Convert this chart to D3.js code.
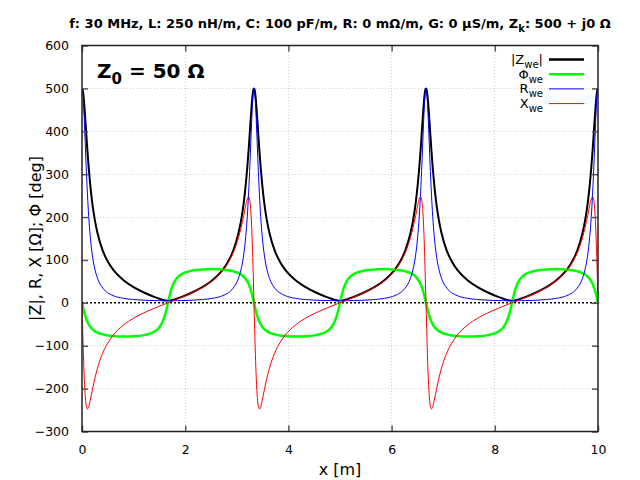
<!DOCTYPE html>
<html>
<head>
<meta charset="utf-8">
<script src="https://cdn.jsdelivr.net/npm/d3@7"></script>
<style>
  body { margin: 0; background: #fff; }
  text { font-family: "DejaVu Sans", sans-serif; }
</style>
</head>
<body>
<div id="chart"></div>
<script>
// positions along the line [m]
const pos = [
  0, 0.01, 0.02, 0.035, 0.05, 0.07, 0.09, 0.106, 0.13, 0.16, 0.2, 0.25, 0.3, 0.4, 0.5, 0.6, 0.8, 1.0, 1.2, 1.4, 1.5, 1.55, 1.6, 1.63,
  1.667, 1.703, 1.733, 1.783, 1.833, 1.933, 2.133, 2.333, 2.533, 2.733, 2.833, 2.933, 3.033, 3.083, 3.133, 3.173, 3.203, 3.227, 3.243, 3.263, 3.283, 3.298, 3.313, 3.323,
  3.333, 3.343, 3.353, 3.368, 3.383, 3.403, 3.423, 3.439, 3.463, 3.493, 3.533, 3.583, 3.633, 3.733, 3.833, 3.933, 4.133, 4.333, 4.533, 4.733, 4.833, 4.883, 4.933, 4.963,
  5.0, 5.036, 5.066, 5.116, 5.166, 5.266, 5.466, 5.666, 5.866, 6.066, 6.166, 6.266, 6.366, 6.416, 6.466, 6.506, 6.536, 6.56, 6.576, 6.596, 6.616, 6.631, 6.646, 6.656,
  6.667, 6.677, 6.687, 6.702, 6.717, 6.737, 6.757, 6.773, 6.797, 6.827, 6.867, 6.917, 6.967, 7.067, 7.167, 7.267, 7.467, 7.667, 7.867, 8.067, 8.167, 8.217, 8.267, 8.297,
  8.333, 8.37, 8.4, 8.45, 8.5, 8.6, 8.8, 9.0, 9.2, 9.4, 9.5, 9.6, 9.7, 9.75, 9.8, 9.84, 9.87, 9.894, 9.91, 9.93, 9.95, 9.965, 9.98, 9.99,
  10
]

// |Z_we| [Ohm]
const zAbs = [
  500, 497.8, 491.3, 474.8, 452.2, 417.2, 380.9, 353.1, 315.2, 274.9, 232.1, 192.3, 162.8, 122.5, 96.4, 78.0, 53.2, 36.6, 24.1, 13.8, 9.4, 7.5, 5.9, 5.3,
  5.0, 5.3, 5.9, 7.5, 9.4, 13.8, 24.1, 36.6, 53.2, 78.0, 96.4, 122.5, 162.8, 192.3, 232.1, 274.9, 315.2, 353.1, 380.9, 417.2, 452.2, 474.8, 491.3, 497.8,
  500, 497.8, 491.3, 474.8, 452.2, 417.2, 380.9, 353.1, 315.2, 274.9, 232.1, 192.3, 162.8, 122.5, 96.4, 78.0, 53.2, 36.6, 24.1, 13.8, 9.4, 7.5, 5.9, 5.3,
  5.0, 5.3, 5.9, 7.5, 9.4, 13.8, 24.1, 36.6, 53.2, 78.0, 96.4, 122.5, 162.8, 192.3, 232.1, 274.9, 315.2, 353.1, 380.9, 417.2, 452.2, 474.8, 491.3, 497.8,
  500, 497.8, 491.3, 474.8, 452.2, 417.2, 380.9, 353.1, 315.2, 274.9, 232.1, 192.3, 162.8, 122.5, 96.4, 78.0, 53.2, 36.6, 24.1, 13.8, 9.4, 7.5, 5.9, 5.3,
  5.0, 5.3, 5.9, 7.5, 9.4, 13.8, 24.1, 36.6, 53.2, 78.0, 96.4, 122.5, 162.8, 192.3, 232.1, 274.9, 315.2, 353.1, 380.9, 417.2, 452.2, 474.8, 491.3, 497.8,
  500
]

// Phi_we [deg]
const phase = [
  0, -5.3, -10.6, -18.1, -25.0, -33.1, -39.9, -44.5, -50.2, -55.8, -61.2, -66.0, -69.4, -73.6, -76.0, -77.4, -78.6, -78.0, -75.3, -67.3, -56.9, -47.2, -31.8, -18.9,
  0, 18.9, 31.8, 47.2, 56.9, 67.3, 75.3, 78.0, 78.6, 77.4, 76.0, 73.6, 69.4, 66.0, 61.2, 55.8, 50.2, 44.5, 39.9, 33.1, 25.0, 18.1, 10.6, 5.3,
  0, -5.3, -10.6, -18.1, -25.0, -33.1, -39.9, -44.5, -50.2, -55.8, -61.2, -66.0, -69.4, -73.6, -76.0, -77.4, -78.6, -78.0, -75.3, -67.3, -56.9, -47.2, -31.8, -18.9,
  0, 18.9, 31.8, 47.2, 56.9, 67.3, 75.3, 78.0, 78.6, 77.4, 76.0, 73.6, 69.4, 66.0, 61.2, 55.8, 50.2, 44.5, 39.9, 33.1, 25.0, 18.1, 10.6, 5.3,
  0, -5.3, -10.6, -18.1, -25.0, -33.1, -39.9, -44.5, -50.2, -55.8, -61.2, -66.0, -69.4, -73.6, -76.0, -77.4, -78.6, -78.0, -75.3, -67.3, -56.9, -47.2, -31.8, -18.9,
  0, 18.9, 31.8, 47.2, 56.9, 67.3, 75.3, 78.0, 78.6, 77.4, 76.0, 73.6, 69.4, 66.0, 61.2, 55.8, 50.2, 44.5, 39.9, 33.1, 25.0, 18.1, 10.6, 5.3,
  0
]

// R_we [Ohm]
const resist = [
  500, 495.6, 483.0, 451.4, 409.9, 349.6, 292.3, 251.9, 201.7, 154.6, 111.7, 78.2, 57.4, 34.7, 23.4, 17.0, 10.6, 7.6, 6.1, 5.3, 5.1, 5.1, 5.0, 5.0,
  5.0, 5.0, 5.0, 5.1, 5.1, 5.3, 6.1, 7.6, 10.6, 17.0, 23.4, 34.7, 57.4, 78.2, 111.7, 154.6, 201.7, 251.9, 292.3, 349.6, 409.9, 451.4, 483.0, 495.6,
  500, 495.6, 483.0, 451.4, 409.9, 349.6, 292.3, 251.9, 201.7, 154.6, 111.7, 78.2, 57.4, 34.7, 23.4, 17.0, 10.6, 7.6, 6.1, 5.3, 5.1, 5.1, 5.0, 5.0,
  5.0, 5.0, 5.0, 5.1, 5.1, 5.3, 6.1, 7.6, 10.6, 17.0, 23.4, 34.7, 57.4, 78.2, 111.7, 154.6, 201.7, 251.9, 292.3, 349.6, 409.9, 451.4, 483.0, 495.6,
  500, 495.6, 483.0, 451.4, 409.9, 349.6, 292.3, 251.9, 201.7, 154.6, 111.7, 78.2, 57.4, 34.7, 23.4, 17.0, 10.6, 7.6, 6.1, 5.3, 5.1, 5.1, 5.0, 5.0,
  5.0, 5.0, 5.0, 5.1, 5.1, 5.3, 6.1, 7.6, 10.6, 17.0, 23.4, 34.7, 57.4, 78.2, 111.7, 154.6, 201.7, 251.9, 292.3, 349.6, 409.9, 451.4, 483.0, 495.6,
  500
]

// X_we [Ohm]
const react = [
  0, -46.2, -90.1, -147.3, -191.0, -227.7, -244.3, -247.5, -242.2, -227.3, -203.5, -175.7, -152.3, -117.5, -93.6, -76.1, -52.1, -35.8, -23.3, -12.7, -7.8, -5.5, -3.1, -1.7,
  0, 1.7, 3.1, 5.5, 7.8, 12.7, 23.3, 35.8, 52.1, 76.1, 93.6, 117.5, 152.3, 175.7, 203.5, 227.3, 242.2, 247.5, 244.3, 227.7, 191.0, 147.3, 90.1, 46.2,
  0, -46.2, -90.1, -147.3, -191.0, -227.7, -244.3, -247.5, -242.2, -227.3, -203.5, -175.7, -152.3, -117.5, -93.6, -76.1, -52.1, -35.8, -23.3, -12.7, -7.8, -5.5, -3.1, -1.7,
  0, 1.7, 3.1, 5.5, 7.8, 12.7, 23.3, 35.8, 52.1, 76.1, 93.6, 117.5, 152.3, 175.7, 203.5, 227.3, 242.2, 247.5, 244.3, 227.7, 191.0, 147.3, 90.1, 46.2,
  0, -46.2, -90.1, -147.3, -191.0, -227.7, -244.3, -247.5, -242.2, -227.3, -203.5, -175.7, -152.3, -117.5, -93.6, -76.1, -52.1, -35.8, -23.3, -12.7, -7.8, -5.5, -3.1, -1.7,
  0, 1.7, 3.1, 5.5, 7.8, 12.7, 23.3, 35.8, 52.1, 76.1, 93.6, 117.5, 152.3, 175.7, 203.5, 227.3, 242.2, 247.5, 244.3, 227.7, 191.0, 147.3, 90.1, 46.2,
  0
]

const xTicks = [0, 2, 4, 6, 8, 10]
const yTicks = [-300, -200, -100, 0, 100, 200, 300, 400, 500, 600]

const width = 640, height = 480
const margin = {top: 45.5, right: 42, bottom: 48.5, left: 82}
const plotW = width - margin.left - margin.right
const plotH = height - margin.top - margin.bottom

const svg = d3.select("#chart")
    .append("svg")
    .attr("width", width)
    .attr("height", height)

const x = d3.scaleLinear().domain([0, 10]).range([0, plotW])
const y = d3.scaleLinear().domain([-300, 600]).range([plotH, 0])

const plt = svg.append("g")
    .attr("transform", "translate(" + margin.left + "," + margin.top + ")")

plt.append("clipPath").attr("id", "clip")
    .append("rect").attr("width", plotW).attr("height", plotH)

// grid (dotted light gray)
plt.selectAll(".gx")
    .data(xTicks.slice(1, -1))
    .enter().append("line")
    .attr("x1", d => x(d)).attr("x2", d => x(d))
    .attr("y1", 0).attr("y2", plotH)
    .style("stroke", "#cfcfcf").style("stroke-width", 1).style("stroke-dasharray", "1,2")
    .attr("shape-rendering", "crispEdges")
plt.selectAll(".gy")
    .data(yTicks.filter(d => d !== 0 && d !== -300 && d !== 600))
    .enter().append("line")
    .attr("x1", 0).attr("x2", plotW)
    .attr("y1", d => y(d)).attr("y2", d => y(d))
    .style("stroke", "#cfcfcf").style("stroke-width", 1).style("stroke-dasharray", "1,2")
    .attr("shape-rendering", "crispEdges")

// zero axis
plt.append("line")
    .attr("x1", 0).attr("x2", plotW)
    .attr("y1", y(0)).attr("y2", y(0))
    .style("stroke", "#000").style("stroke-width", 1.5).style("stroke-dasharray", "2,2")

// curves, in the same order as the legend
const series = [
    {name: "|Z", sub: "we", suffix: "|", values: zAbs, color: "#000000", w: 2},
    {name: "\u03A6", sub: "we", suffix: "", values: phase, color: "#00ff00", w: 2.5},
    {name: "R", sub: "we", suffix: "", values: resist, color: "#0000ff", w: 1},
    {name: "X", sub: "we", suffix: "", values: react, color: "#ff0000", w: 1}
]

const line = d3.line()
    .x(d => x(d[0]))
    .y(d => y(d[1]))
    .curve(d3.curveMonotoneX)

plt.append("g").attr("clip-path", "url(#clip)")
    .selectAll("path")
    .data(series)
    .enter().append("path")
    .attr("d", s => line(pos.map((p, i) => [p, s.values[i]])))
    .style("fill", "none")
    .style("stroke", s => s.color)
    .style("stroke-width", s => s.w)
    .style("stroke-linejoin", "round")

// axes: ticks inward, mirrored on top and right
const tickLen = 6
const axB = plt.append("g").attr("transform", "translate(0," + plotH + ")")
    .call(d3.axisBottom(x).tickValues(xTicks).tickSizeInner(-tickLen).tickSizeOuter(0).tickPadding(14))
const axT = plt.append("g")
    .call(d3.axisTop(x).tickValues(xTicks).tickSizeInner(-tickLen).tickSizeOuter(0).tickFormat(""))
const axL = plt.append("g")
    .call(d3.axisLeft(y).tickValues(yTicks).tickSizeInner(-tickLen).tickSizeOuter(0).tickPadding(13))
const axR = plt.append("g").attr("transform", "translate(" + plotW + ",0)")
    .call(d3.axisRight(y).tickValues(yTicks).tickSizeInner(-tickLen).tickSizeOuter(0).tickFormat(""))

;[axB, axT, axL, axR].forEach(a => {
    a.select(".domain").remove()
    a.selectAll("line").style("stroke", "#555").style("stroke-width", 1.5)
    a.selectAll("text").style("font-size", "12.5px").style("fill", "#000")
        .style("font-family", "DejaVu Sans, sans-serif")
})

// border
plt.append("rect")
    .attr("width", plotW).attr("height", plotH)
    .style("fill", "none").style("stroke", "#222").style("stroke-width", 1.5)

// legend
const leg = plt.append("g").attr("transform", "translate(" + (plotW - 55) + ",14)")
series.forEach((s, i) => {
    const g = leg.append("g").attr("transform", "translate(0," + (i * 14.7) + ")")
    const t = g.append("text").attr("x", 0).attr("y", 4.5)
        .attr("text-anchor", "end")
        .style("font-size", "13px")
    t.append("tspan").text(s.name)
    t.append("tspan").attr("dy", 4).style("font-size", "10px").text(s.sub)
    if (s.suffix) t.append("tspan").attr("dy", -4).text(s.suffix)
    g.append("line")
        .attr("x1", 6).attr("x2", 41)
        .style("stroke", s.color).style("stroke-width", s.w === 1 ? 1 : 2.5)
})

// Z0 label
const z0 = plt.append("text").attr("x", 15).attr("y", 32)
    .style("font-size", "20px").style("font-weight", "bold")
z0.append("tspan").text("Z")
z0.append("tspan").attr("dy", 6).style("font-size", "15px").text("0")
z0.append("tspan").attr("dy", -6).text(" = 50 \u03A9")

// title
const title = svg.append("text")
    .attr("x", margin.left + plotW / 2).attr("y", 28)
    .attr("text-anchor", "middle")
    .style("font-size", "13px").style("font-weight", "bold")
title.append("tspan").text("f: 30 MHz, L: 250 nH/m, C: 100 pF/m, R: 0 m\u03A9/m, G: 0 \u03BCS/m, Z")
title.append("tspan").attr("dy", 4).style("font-size", "10px").text("k")
title.append("tspan").attr("dy", -4).text(": 500 + j0 \u03A9")

// axis labels
svg.append("text")
    .attr("x", margin.left + plotW / 2).attr("y", 475)
    .attr("text-anchor", "middle")
    .style("font-size", "16px")
    .text("x [m]")

svg.append("text")
    .attr("transform", "translate(41," + (margin.top + plotH / 2) + ") rotate(-90)")
    .attr("text-anchor", "middle")
    .style("font-size", "16px")
    .text("|Z|, R, X [\u03A9]; \u03A6 [deg]")
</script>
</body>
</html>
